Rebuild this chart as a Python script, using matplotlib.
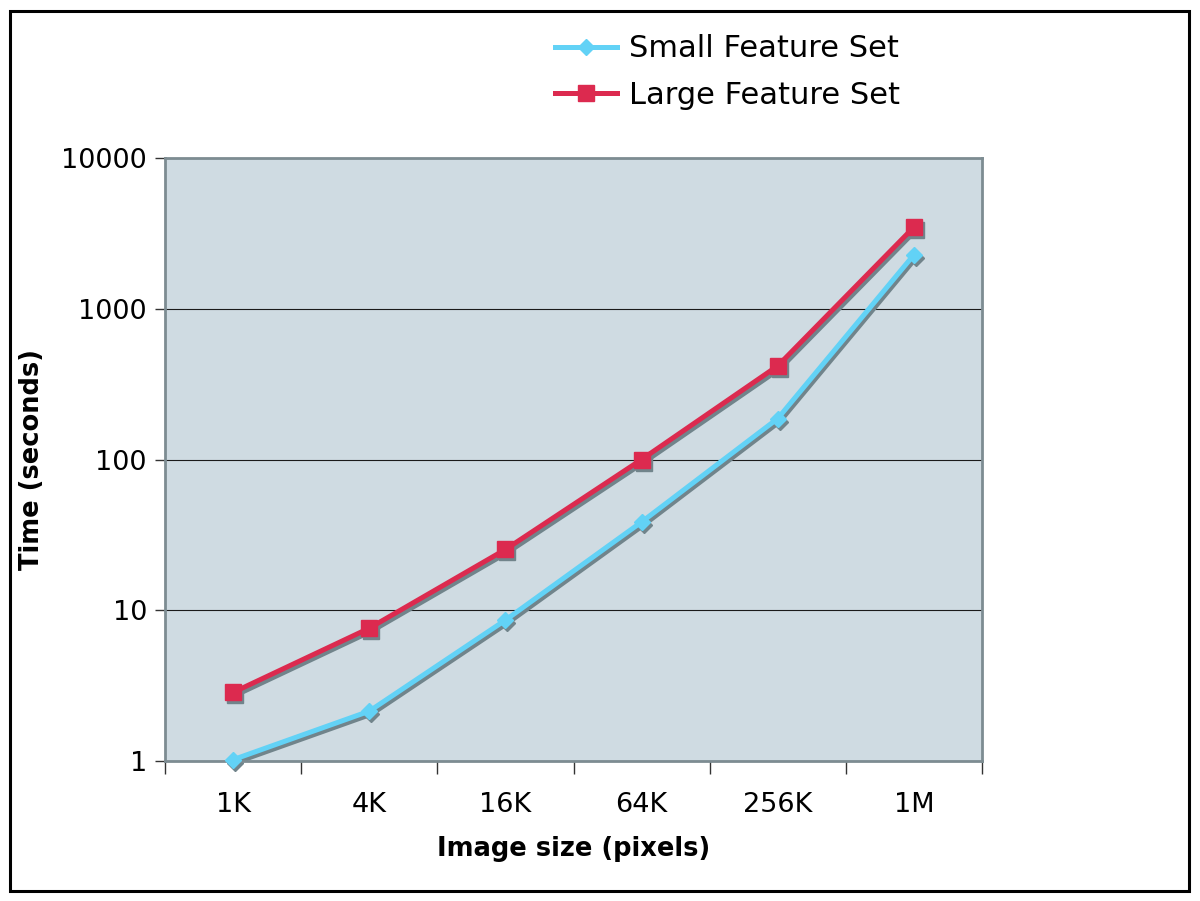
import matplotlib
matplotlib.use("Agg")
import matplotlib.pyplot as plt
import matplotlib.transforms as mtrans
from matplotlib.patches import Rectangle
from matplotlib.lines import Line2D

categories = ["1K", "4K", "16K", "64K", "256K", "1M"]
small_feature = [1.02, 2.14, 8.6, 38.5, 187, 2280]
large_feature = [2.85, 7.6, 25.3, 100, 418, 3480]
y_ticks = [1, 10, 100, 1000, 10000]
y_tick_labels = ["1", "10", "100", "1000", "10000"]

W, H = 1200, 901
fig = plt.figure(figsize=(W / 100, H / 100), dpi=100)
fig.patch.set_facecolor("white")

ax = fig.add_axes([165 / W, 1 - 761 / H, (982 - 165) / W, (761 - 158) / H])
ax.set_facecolor("#cfdbe2")

red = "#dc2a4f"
cyan = "#62d2f6"
shadow_color = "#71848b"

x = list(range(len(categories)))
shadow_tr = mtrans.offset_copy(ax.transData, fig=fig, x=2, y=-3, units="dots")

for vals, col, mk, ms in [(large_feature, red, "s", 11), (small_feature, cyan, "D", 8.5)]:
    ax.plot(x, vals, color=shadow_color, lw=3.6, marker=mk, ms=ms, mec=shadow_color,
            mfc=shadow_color, transform=shadow_tr, zorder=2.5, clip_on=False)
    ax.plot(x, vals, color=col, lw=3.6, marker=mk, ms=ms, mec=col, mfc=col,
            zorder=3, clip_on=False)

ax.set_yscale("log")
ax.set_ylim(1, 10000)
ax.set_xlim(-0.5, len(categories) - 0.5)
ax.set_yticks(y_ticks)
ax.set_yticklabels(y_tick_labels)
ax.minorticks_off()
ax.yaxis.grid(True, color="#1a1a1a", lw=0.8)
ax.set_axisbelow(True)

ax.set_xticks(x)
ax.set_xticklabels(categories)
ax.set_xticks([i - 0.5 for i in range(len(categories) + 1)], minor=True)
ax.tick_params(axis="x", which="major", length=0, pad=22, labelsize=19.5)
ax.tick_params(axis="x", which="minor", length=9, width=1, color="#333333", direction="out")
ax.tick_params(axis="y", which="major", length=7, width=1, color="#333333", labelsize=19.5, pad=6)

for s in ax.spines.values():
    s.set_color("#7d8c92")
    s.set_linewidth(2)

ax.set_xlabel("Image size (pixels)", fontsize=18.5, fontweight="bold", labelpad=13)
ax.set_ylabel("Time (seconds)", fontsize=18.5, fontweight="bold", labelpad=12)

handles = [
    Line2D([], [], color=cyan, lw=3.6, marker="D", ms=8.5, mec=cyan, mfc=cyan),
    Line2D([], [], color=red, lw=3.6, marker="s", ms=11, mec=red, mfc=red),
]
fig.legend(handles, ["Small Feature Set", "Large Feature Set"], loc="upper left",
           bbox_to_anchor=(531 / W, 1 - 10 / H), frameon=False, fontsize=22,
           handlelength=2.0, handletextpad=0.4, labelspacing=0.58, borderpad=0.3)

fig.patches.append(Rectangle((10 / W, 1 - 891 / H), (1189 - 10) / W, (891 - 11) / H,
                             transform=fig.transFigure, fill=False, ec="black", lw=2.2))

fig.savefig("out.png", dpi=100)
